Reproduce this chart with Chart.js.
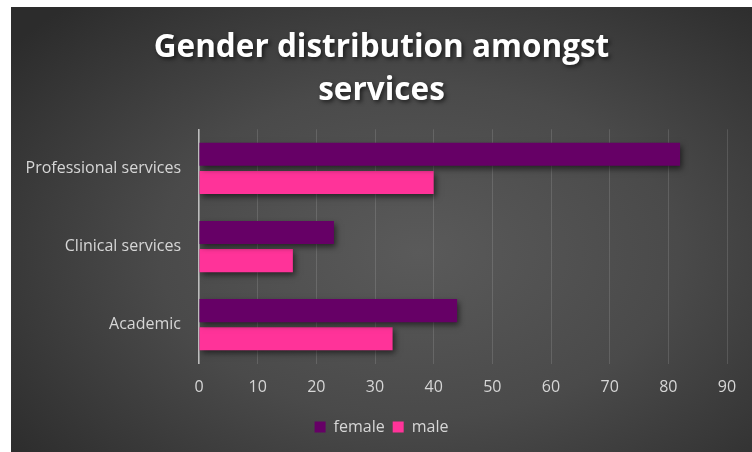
<!DOCTYPE html>
<html>
<head>
<meta charset="utf-8">
<script src="https://cdn.jsdelivr.net/npm/chart.js@4.4.1/dist/chart.umd.min.js"></script>
<style>
  html, body { margin: 0; padding: 0; background: #fff; }
  #panel {
    position: absolute; left: 11px; top: 7px; width: 741px; height: 445px;
    background: radial-gradient(ellipse 70% 75% at 55% 55%, #5a5a5a 0%, #4a4a4a 50%, #2c2c2c 100%);
  }
</style>
</head>
<body>
<div id="panel"><canvas id="chart" width="741" height="445"></canvas></div>
<script>
const categories = ['Professional services', 'Clinical services', 'Academic'];
const female = [82, 23, 44];
const male = [40, 16, 33];
const xTicks = [0, 10, 20, 30, 40, 50, 60, 70, 80, 90];

// soft drop shadow under bars and title, like the office chart style
const shadows = {
    id: 'shadows',
    beforeDraw(chart) {
        const t = chart.titleBlock;
        if (t && !t._shadowed) {
            const draw = t.draw.bind(t);
            t.draw = () => {
                const ctx = chart.ctx;
                ctx.save();
                ctx.shadowColor = 'rgba(0,0,0,0.6)';
                ctx.shadowBlur = 4;
                ctx.shadowOffsetX = 2;
                ctx.shadowOffsetY = 2;
                draw();
                ctx.restore();
            };
            t._shadowed = true;
        }
    },
    beforeDatasetsDraw(chart) {
        const ctx = chart.ctx;
        ctx.save();
        ctx.shadowColor = 'rgba(0,0,0,0.55)';
        ctx.shadowBlur = 6;
        ctx.shadowOffsetX = 2;
        ctx.shadowOffsetY = 3;
    },
    afterDatasetsDraw(chart) {
        chart.ctx.restore();
    }
};

new Chart(document.getElementById('chart'), {
    type: 'bar',
    data: {
        labels: categories,
        datasets: [{
            label: 'female',
            data: female,
            backgroundColor: '#660066',
            barPercentage: 0.82,
            categoryPercentage: 0.72
        }, {
            label: 'male',
            data: male,
            backgroundColor: '#ff3399',
            barPercentage: 0.82,
            categoryPercentage: 0.72
        }]
    },
    options: {
        indexAxis: 'y',
        responsive: false,
        animation: false,
        layout: { padding: { top: 0, right: 0, bottom: 7, left: 0 } },
        scales: {
            x: {
                min: xTicks[0],
                max: xTicks[xTicks.length - 1],
                afterBuildTicks: scale => { scale.ticks = xTicks.map(v => ({ value: v })); },
                afterFit: scale => { scale.paddingRight = 25; },
                grid: { color: 'rgba(255,255,255,0.13)', lineWidth: 1, drawTicks: false },
                border: { display: false },
                ticks: { color: '#d6d6d6', font: { family: 'Open Sans', size: 16 }, padding: 14 }
            },
            y: {
                grid: { display: false, drawTicks: false },
                border: { display: true, color: '#bdbdbd', width: 1.5 },
                ticks: { color: '#d6d6d6', font: { family: 'Open Sans', size: 16 }, padding: 18 },
                afterFit: scale => { scale.width = 188; }
            }
        },
        plugins: {
            title: {
                display: true,
                text: ['Gender distribution amongst', 'services'],
                color: '#ffffff',
                font: { family: 'Open Sans', size: 31.5, weight: 'bold', lineHeight: 1.37 },
                padding: { top: 19, bottom: 17 }
            },
            legend: {
                position: 'bottom',
                labels: {
                    color: '#d6d6d6',
                    font: { family: 'Open Sans', size: 16 },
                    boxWidth: 11,
                    boxHeight: 11,
                    padding: 8
                }
            },
            tooltip: { enabled: false }
        }
    },
    plugins: [shadows]
});
</script>
</body>
</html>
